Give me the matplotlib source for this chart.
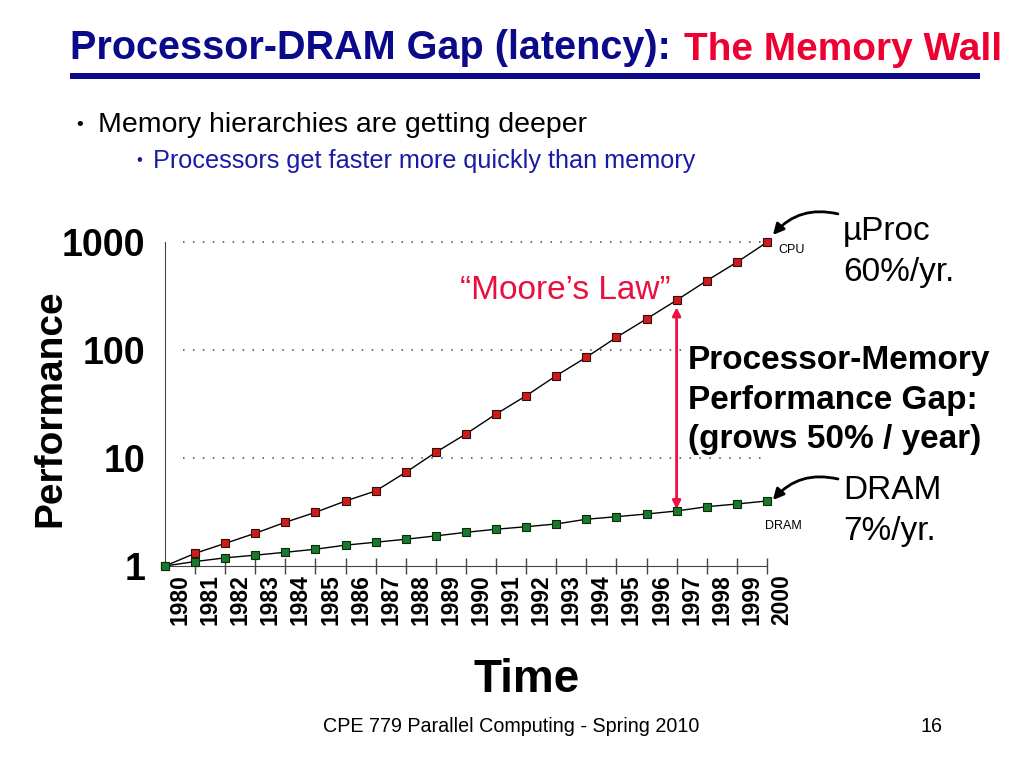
import matplotlib
matplotlib.use("Agg")
import matplotlib.pyplot as plt
from matplotlib.patches import Rectangle

# data
years = list(range(1980, 2001))
cpu = [1.0, 1.31, 1.62, 2.01, 2.54, 3.14, 4.0, 4.95, 7.37, 11.3, 16.7,
       25.5, 37.7, 57.8, 85.6, 131, 194, 289, 438, 649, 993]
dram = [1.0, 1.10, 1.19, 1.26, 1.34, 1.43, 1.56, 1.66, 1.77, 1.90, 2.05,
        2.19, 2.31, 2.45, 2.71, 2.86, 3.03, 3.23, 3.54, 3.75, 4.0]
y_ticks = [1, 10, 100, 1000]
y_labels = ["1", "10", "100", "1000"]
x_labels = [str(y) for y in years]
gap_year = 1997

narrow = ["Liberation Sans Narrow", "Liberation Sans", "DejaVu Sans"]
arial = ["Liberation Sans", "DejaVu Sans"]
plt.rcParams["font.family"] = arial

W, H = 1024, 768
fig = plt.figure(figsize=(W / 100, H / 100), dpi=100)


def fx(px):
    return px / W


def fy(py):
    return 1 - py / H


# slide title + underline
fig.text(fx(70), fy(48), "Processor-DRAM Gap (latency):", family=narrow,
         fontsize=28.5, fontweight="bold", color="#0a0a8a", va="center")
fig.text(fx(684), fy(50), "The Memory Wall", family=narrow,
         fontsize=28, fontweight="bold", color="#ee0033", va="center")
fig.add_artist(Rectangle((fx(70), fy(79)), fx(980 - 70), 6 / H,
                         transform=fig.transFigure, color="#0a0a8a", lw=0))

# bullets
fig.text(fx(76), fy(125), "•", fontsize=14, va="center")
fig.text(fx(98), fy(125), "Memory hierarchies are getting deeper", family=narrow,
         fontsize=20.5, va="center")
fig.text(fx(136), fy(161), "•", fontsize=12, va="center", color="#1a1aa8")
fig.text(fx(153), fy(161), "Processors get faster more quickly than memory",
         family=narrow, fontsize=18.2, va="center", color="#1a1aa8")

# chart
ax = fig.add_axes([fx(165), fy(566), 632 / W, 336 / H])
ax.set_yscale("log")
ax.set_xlim(1980, 2001)
ax.set_ylim(1, 10 ** 3.111)

for v in [10, 100, 1000]:
    ax.plot([1980.6, 2000], [v, v], color="#444444", lw=1.1,
            linestyle=(0, (1, 5.5)), zorder=1)

ax.plot(years, cpu, color="black", lw=1, marker="s", markersize=6.2,
        markerfacecolor="#cc1b1b", markeredgecolor="#3a0a0a", markeredgewidth=0.8,
        zorder=3, clip_on=False)
ax.plot(years, dram, color="black", lw=1, marker="s", markersize=6.2,
        markerfacecolor="#167a2a", markeredgecolor="#0a2a0a", markeredgewidth=0.8,
        zorder=4, clip_on=False)

for s in ["top", "right"]:
    ax.spines[s].set_visible(False)
ax.spines["left"].set_color("#444444")
ax.spines["bottom"].set_color("#444444")
ax.spines["left"].set_bounds(1, 1000)
ax.spines["bottom"].set_bounds(1980, 2000)

ax.set_yticks(y_ticks)
ax.set_yticklabels(y_labels, fontsize=27, fontweight="bold")
ax.yaxis.set_minor_locator(plt.NullLocator())
ax.tick_params(axis="y", length=0, pad=14)

ax.set_xticks(years[1:])
ax.set_xticklabels([])
ax.set_xticks([y + 0.5 for y in years], minor=True)
ax.set_xticklabels(x_labels, minor=True, rotation=90, fontsize=16.5,
                   fontweight="bold", va="top")
ax.tick_params(axis="x", which="major", direction="inout", length=11,
               color="#444444", width=1)
ax.tick_params(axis="x", which="minor", length=0, pad=6)

ax.set_ylabel("Performance", fontsize=28, fontweight="bold")
ax.yaxis.label.set_va("center")
ax.yaxis.set_label_coords((50 - 165) / 632, (566 - 408) / 336)

# gap arrow
gi = years.index(gap_year)
ax.annotate("", xy=(gap_year, dram[gi] * 1.04), xytext=(gap_year, cpu[gi] * 0.86),
            arrowprops=dict(arrowstyle="<|-|>", color="#ee1144", lw=2,
                            mutation_scale=12, shrinkA=0, shrinkB=0))

# curved pointers
ax.annotate("", xy=(2000.2, 1161), xytext=(2002.36, 1820), annotation_clip=False,
            arrowprops=dict(arrowstyle="-|>", color="black", lw=2,
                            mutation_scale=16, connectionstyle="arc3,rad=0.3",
                            shrinkA=0, shrinkB=0))
ax.annotate("", xy=(2000.2, 4.08), xytext=(2002.36, 6.39), annotation_clip=False,
            arrowprops=dict(arrowstyle="-|>", color="black", lw=2,
                            mutation_scale=16, connectionstyle="arc3,rad=0.3",
                            shrinkA=0, shrinkB=0))

# annotations
fig.text(fx(778), fy(250), "CPU", fontsize=9, va="center")
fig.text(fx(765), fy(526), "DRAM", fontsize=9, va="center")
fig.text(fx(843), fy(252), "µProc\n60%/yr.", fontsize=24, va="center",
         linespacing=1.42)
fig.text(fx(843), fy(511), "DRAM\n7%/yr.", fontsize=24, va="center",
         linespacing=1.45)
fig.text(fx(688), fy(400), "Processor-Memory\nPerformance Gap:\n(grows 50% / year)",
         fontsize=24, fontweight="bold", va="center", linespacing=1.36,
         bbox=dict(facecolor="white", edgecolor="none", pad=1))
fig.text(fx(565), fy(290), "\u201cMoore\u2019s Law\u201d", fontsize=24,
         color="#e8103c", ha="center", va="center")

fig.text(fx(527), fy(680), "Time", family=narrow, fontsize=33,
         fontweight="bold", ha="center", va="center")
fig.text(fx(323), fy(727), "CPE 779 Parallel Computing - Spring 2010",
         family=narrow, fontsize=14.2, va="center")
fig.text(fx(932), fy(727), "16", family=narrow, fontsize=14.2, ha="center",
         va="center")

fig.savefig("out.png", dpi=100)
